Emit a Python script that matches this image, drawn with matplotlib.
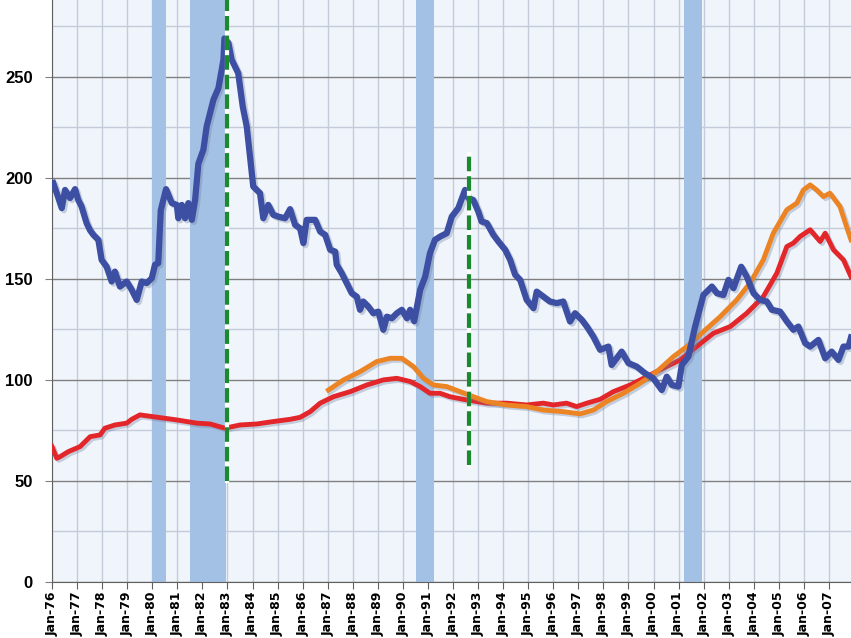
import matplotlib
matplotlib.use('Agg')
import matplotlib.pyplot as plt
import matplotlib.patheffects as pe
import numpy as np

# blue series (decimal years)
blue_x = [1976.05, 1976.19, 1976.39, 1976.52, 1976.72, 1976.92, 1977.05, 1977.18, 1977.38, 1977.52,
          1977.65, 1977.85, 1977.98, 1978.18, 1978.38, 1978.51, 1978.71, 1978.98, 1979.18, 1979.38,
          1979.58, 1979.78, 1979.98, 1980.11, 1980.24, 1980.34, 1980.55, 1980.78, 1980.98, 1981.04,
          1981.18, 1981.31, 1981.44, 1981.58, 1981.71, 1981.84, 1982.04, 1982.17, 1982.44, 1982.64,
          1982.84, 1982.88, 1983.04, 1983.17, 1983.43, 1983.61, 1983.77, 1984.03, 1984.3, 1984.43,
          1984.63, 1984.83, 1985.03, 1985.3, 1985.5, 1985.7, 1985.9, 1986.03, 1986.16, 1986.5,
          1986.7, 1986.9, 1987.1, 1987.3, 1987.36, 1987.56, 1987.76, 1987.96, 1988.16, 1988.29,
          1988.42, 1988.62, 1988.82, 1989.02, 1989.22, 1989.36, 1989.56, 1989.76, 1989.96, 1990.16,
          1990.29, 1990.45, 1990.69, 1990.89, 1991.08, 1991.28, 1991.48, 1991.75, 1991.95, 1992.21,
          1992.48, 1992.61, 1992.81, 1993.01, 1993.14, 1993.35, 1993.61, 1993.81, 1994.08, 1994.28,
          1994.48, 1994.68, 1994.94, 1995.21, 1995.34, 1995.61, 1995.87, 1996.14, 1996.4, 1996.67,
          1996.87, 1997.14, 1997.34, 1997.6, 1997.87, 1998.2, 1998.33, 1998.73, 1999.0, 1999.33,
          1999.66, 1999.99, 2000.33, 2000.53, 2000.73, 2000.99, 2001.13, 2001.39, 2001.66, 2001.99,
          2002.33, 2002.53, 2002.79, 2002.99, 2003.19, 2003.5, 2003.72, 2003.99, 2004.25, 2004.52,
          2004.72, 2005.05, 2005.32, 2005.58, 2005.78, 2006.05, 2006.25, 2006.58, 2006.85, 2007.11,
          2007.38, 2007.58, 2007.78, 2007.88]
blue_y = [197.4, 192.4, 185.0, 194.0, 190.0, 194.4, 189.0, 185.8, 177.6, 174.0,
          171.8, 169.3, 159.4, 156.0, 148.7, 153.6, 146.2, 148.7, 144.6, 139.6,
          148.7, 147.9, 150.3, 157.0, 157.8, 184.0, 194.4, 187.5, 186.6, 180.0,
          186.6, 180.0, 187.5, 179.2, 189.0, 207.0, 213.9, 225.4, 238.6, 244.4,
          258.4, 269.0, 266.7, 258.4, 251.8, 235.3, 225.4, 195.7, 192.4, 180.0,
          186.6, 181.7, 180.8, 180.0, 184.5, 176.7, 175.0, 167.7, 179.2, 179.2,
          173.4, 171.8, 164.4, 163.5, 157.0, 152.8, 147.9, 142.9, 141.2, 134.7,
          138.8, 136.3, 133.0, 133.8, 124.8, 131.3, 130.5, 133.0, 134.7, 130.5,
          134.7, 129.0, 144.6, 151.1, 162.7, 169.3, 170.9, 172.6, 180.8, 185.0,
          194.0, 190.0, 189.0, 183.3, 178.4, 177.6, 171.8, 168.5, 164.4, 159.4,
          152.0, 149.5, 139.6, 135.5, 143.7, 141.2, 138.8, 138.0, 138.8, 128.9,
          133.0, 129.7, 126.4, 121.4, 114.9, 116.5, 107.4, 114.0, 108.3, 106.6,
          103.3, 100.8, 95.0, 101.6, 97.5, 96.7, 107.4, 111.5, 126.4, 142.0,
          146.2, 142.9, 142.0, 149.5, 145.4, 156.0, 151.1, 142.9, 139.6, 138.8,
          134.7, 133.8, 128.9, 124.8, 126.4, 118.2, 116.5, 119.8, 110.7, 114.0,
          109.9, 116.5, 116.5, 121.0]

# red series
red_x = [1976.0, 1976.19, 1976.32, 1976.65, 1977.12, 1977.52, 1977.92, 1978.11, 1978.51, 1978.98,
         1979.18, 1979.51, 1980.04, 1980.51, 1980.98, 1981.38, 1981.78, 1982.31, 1982.9, 1983.5,
         1984.17, 1984.83, 1985.5, 1985.9, 1986.3, 1986.7, 1987.23, 1987.9, 1988.56, 1989.22,
         1989.76, 1990.29, 1990.69, 1991.08, 1991.48, 1991.88, 1992.41, 1992.95, 1993.34, 1994.14,
         1994.94, 1995.6, 1996.0, 1996.53, 1996.93, 1997.34, 1997.87, 1998.4, 1999.07, 1999.73,
         2000.39, 2001.06, 2001.72, 2002.39, 2003.06, 2003.72, 2004.38, 2004.92, 2005.32, 2005.58,
         2005.85, 2006.25, 2006.65, 2006.85, 2007.18, 2007.58, 2007.88]
red_y = [67.0, 61.2, 62.0, 64.5, 67.0, 71.9, 72.8, 76.1, 77.7, 78.6,
         80.5, 82.7, 81.8, 81.0, 80.2, 79.4, 78.6, 78.2, 76.1, 77.7,
         78.2, 79.4, 80.5, 81.5, 84.3, 88.5, 91.7, 94.2, 97.5, 100.0,
         100.8, 99.2, 96.7, 93.4, 93.4, 91.7, 90.4, 89.3, 88.5, 88.5,
         87.6, 88.5, 87.6, 88.5, 86.8, 88.5, 90.4, 94.2, 97.5, 101.6,
         105.8, 109.9, 116.5, 123.1, 126.4, 133.0, 141.2, 152.8, 166.0, 167.7,
         171.0, 174.3, 168.5, 172.6, 164.4, 159.4, 151.1]

# orange series
orange_x = [1987.03, 1987.63, 1988.29, 1988.96, 1989.49, 1989.96, 1990.42, 1990.82, 1991.22, 1991.75,
            1992.28, 1992.81, 1993.34, 1994.14, 1994.94, 1995.6, 1996.4, 1997.07, 1997.6, 1998.13,
            1998.8, 1999.47, 2000.13, 2000.79, 2001.33, 2001.99, 2002.66, 2003.32, 2003.85, 2004.38,
            2004.78, 2005.32, 2005.72, 2005.98, 2006.25, 2006.51, 2006.78, 2007.04, 2007.44, 2007.7,
            2007.88]
orange_y = [95.0, 100.0, 104.1, 109.1, 110.7, 110.7, 106.6, 100.8, 97.5, 96.7,
            94.2, 91.7, 89.3, 87.6, 86.8, 85.1, 84.3, 83.2, 85.1, 89.3,
            93.4, 98.4, 104.1, 111.5, 116.5, 123.9, 131.3, 139.6, 147.9, 159.4,
            172.6, 184.2, 187.5, 194.0, 196.5, 194.0, 190.7, 192.4, 185.8, 175.9,
            169.3]

# recession bands (start, end)
recessions = [(1980.0, 1980.56), (1981.52, 1982.95), (1990.53, 1991.25), (2001.2, 2001.92)]

# green dashed markers: (x, y bottom, y top)
markers = [(1983.0, 50, 300), (1992.62, 58, 212)]

years = list(range(1976, 2008))
year_labels = ['Jan-%02d' % (y % 100) for y in years]

fig = plt.figure(figsize=(8.51, 6.38), dpi=100)
ax = fig.add_axes([52 / 851, 56 / 638, 1 - 52 / 851, 1 - 56 / 638])
ax.set_facecolor('#f0f5fc')

for r0, r1 in recessions:
    ax.axvspan(r0, r1, color='#a3c1e4', lw=0, zorder=1)

shadow = [pe.SimpleLineShadow(offset=(1.5, -1.5), shadow_color='#7080a0', alpha=0.35), pe.Normal()]
ax.plot(red_x, red_y, color='#e3262a', lw=3.5, zorder=3, path_effects=shadow, solid_joinstyle='round')
ax.plot(orange_x, orange_y, color='#ec8424', lw=3.5, zorder=4, path_effects=shadow, solid_joinstyle='round')
ax.plot(blue_x, blue_y, color='#3d4fa3', lw=4.5, zorder=5, path_effects=shadow, solid_joinstyle='round')

for mx, y0, y1 in markers:
    ax.plot([mx, mx], [y0, y1], color='white', lw=3, zorder=6)
    ax.plot([mx, mx], [y0, y1], color='#1b8a2e', lw=3, ls=(0, (3.5, 1.2)), zorder=7)

ax.set_xlim(1976.0, 2007.88)
ax.set_ylim(0, 288)

ax.set_xticks(years)
ax.set_xticklabels(year_labels, rotation=90, fontsize=9, fontweight='bold')
ax.set_yticks(np.arange(0, 251, 50))
ax.set_yticks(np.arange(25, 288, 50), minor=True)
ax.set_yticklabels([str(v) for v in range(0, 251, 50)], fontsize=12, fontweight='bold',
                   family='Liberation Sans')

ax.grid(axis='x', which='major', color='#c3ccd8', lw=1, zorder=2)
ax.grid(axis='y', which='major', color='#808080', lw=1, zorder=2)
ax.grid(axis='y', which='minor', color='#c3ccd8', lw=1, zorder=2)
ax.set_axisbelow(True)

ax.tick_params(axis='x', length=5, color='#606060', pad=2)
ax.tick_params(axis='y', which='major', length=5, color='#808080', pad=9)
ax.tick_params(axis='y', which='minor', length=0)

for side in ['top', 'right']:
    ax.spines[side].set_visible(False)
for side in ['left', 'bottom']:
    ax.spines[side].set_color('#606060')

fig.savefig('out.png', dpi=100)
